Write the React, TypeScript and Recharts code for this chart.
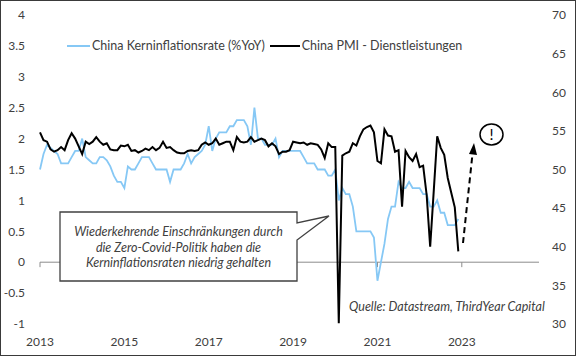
import { ComposedChart, Line, XAxis, YAxis, ReferenceLine } from "recharts";

const startYear = 2013;

// China core CPI, % YoY, monthly from Jan 2013
const coreCpi = [
  1.5, 1.75, 1.9, 1.85, 1.8, 1.75, 1.6, 1.6, 1.6, 1.7, 1.8, 1.8,
  2.0, 1.7, 1.65, 1.6, 1.6, 1.7, 1.7, 1.65, 1.55, 1.4, 1.3, 1.3,
  1.2, 1.55, 1.5, 1.5, 1.6, 1.7, 1.7, 1.7, 1.6, 1.5, 1.5, 1.5,
  1.5, 1.3, 1.5, 1.5, 1.5, 1.6, 1.75, 1.6, 1.7, 1.75, 1.8, 1.9,
  2.2, 1.8, 2.0, 2.1, 2.1, 2.1, 2.2, 2.2, 2.3, 2.3, 2.3, 2.2,
  1.9, 2.5, 2.0, 2.0, 1.9, 1.9, 1.9, 2.0, 1.7, 1.8, 1.8, 1.8,
  1.8, 1.8, 1.8, 1.7, 1.6, 1.6, 1.6, 1.5, 1.5, 1.5, 1.4, 1.4,
  1.5, 1.0, 1.2, 1.1, 1.1, 0.9, 0.5, 0.5, 0.5, 0.5, 0.5, 0.4,
  -0.3, 0.0, 0.3, 0.7, 0.9, 0.9, 1.3, 1.2, 1.2, 1.3, 1.2, 1.2,
  1.2, 1.1, 1.1, 0.9, 0.9, 1.0, 0.8, 0.8, 0.6, 0.6, 0.6, 0.7,
];

// China PMI services, monthly from Jan 2013
const pmiServices = [
  54.8, 53.8, 53.6, 52.6, 52.3, 52.5, 52.9, 52.5, 53.8, 54.7, 54.0, 53.0,
  52.0, 53.6, 53.3, 53.6, 54.2, 53.6, 53.2, 53.4, 52.6, 52.5, 52.5, 53.1,
  53.0, 53.2, 52.4, 52.5, 52.2, 52.4, 52.7, 52.5, 52.9, 52.5, 52.8, 53.6,
  52.8, 52.9, 52.5, 52.2, 52.1, 52.1, 52.4, 52.5, 52.4, 52.5, 53.2, 53.5,
  53.2, 53.4, 54.0, 53.2, 53.4, 53.6, 53.6, 52.5, 54.2, 53.6, 53.5, 53.6,
  54.2, 53.6, 53.8, 54.0, 53.8, 53.0, 53.4, 53.0, 52.0, 52.3, 52.3, 52.5,
  53.6, 53.5, 53.4, 53.5, 53.2, 53.4, 53.3, 53.2, 52.6, 51.5, 53.4, 52.9,
  52.9, 30.1, 51.8, 52.1, 52.3, 53.4, 53.1, 54.3, 55.2, 55.5, 55.7, 54.8,
  51.1, 50.8, 55.2, 54.4, 54.3, 52.3, 52.5, 45.2, 52.4, 51.6, 51.1, 52.0,
  50.3, 50.5, 46.7, 40.0, 47.1, 54.3, 52.8, 51.9, 48.9, 47.0, 45.1, 39.4,
];

const yearTicks = [2013, 2015, 2017, 2019, 2021, 2023];
const leftTicks = [-1, -0.5, 0, 0.5, 1, 1.5, 2, 2.5, 3, 3.5, 4];
const rightTicks = [30, 35, 40, 45, 50, 55, 60, 65, 70];

const coreName = "China Kerninflationsrate (%YoY)";
const pmiName = "China PMI - Dienstleistungen";
const calloutLines = [
  "Wiederkehrende Einschränkungen durch",
  "die Zero-Covid-Politik haben die",
  "Kerninflationsraten niedrig gehalten",
];
const sourceText = "Quelle: Datastream, ThirdYear Capital";

const data = coreCpi.map((v, i) => ({
  t: startYear + i / 12,
  core: v,
  pmi: pmiServices[i],
}));

const BLUE = "#86C8F5";
const TEXT = "#404040";
const FONT = "Lato, 'Open Sans', sans-serif";

const tickStyle = { fontSize: 12, fill: TEXT, fontFamily: FONT };

function ChartLegend() {
  const item = (color: string, label: string, sample: number, mr: number) => (
    <div style={{ display: "flex", alignItems: "center", marginRight: mr }}>
      <div style={{ width: sample, height: 2, background: color, marginRight: 2 }} />
      <span style={{ fontSize: 12.5, color: TEXT, fontFamily: FONT, whiteSpace: "nowrap" }}>{label}</span>
    </div>
  );
  return (
    <div style={{ position: "absolute", left: 66, top: 37, display: "flex", alignItems: "center" }}>
      {item(BLUE, coreName, 23, 5)}
      {item("#000", pmiName, 30, 0)}
    </div>
  );
}

export default function App() {
  return (
    <div
      style={{
        position: "absolute",
        left: 0,
        top: 0,
        width: 576,
        height: 356,
        boxSizing: "border-box",
        border: "1px solid #3a3a3a",
        background: "#fff",
        overflow: "hidden",
      }}
    >
      <div style={{ position: "absolute", left: -1, top: -1 }}>
        <ComposedChart width={576} height={356} data={data} margin={{ top: 15, right: 0, bottom: 0, left: 0 }}>
          <XAxis
            dataKey="t"
            type="number"
            domain={[2013, 2024.83]}
            ticks={yearTicks}
            tickFormatter={(v) => String(Math.round(v))}
            axisLine={false}
            tickLine={false}
            tickSize={0}
            tickMargin={13}
            height={32}
            tick={tickStyle}
            interval={0}
          />
          <YAxis
            yAxisId="left"
            domain={[-1, 4]}
            ticks={leftTicks}
            axisLine={false}
            tickLine={false}
            tickSize={0}
            tickMargin={15}
            width={40}
            tick={tickStyle}
            interval={0}
          />
          <YAxis
            yAxisId="right"
            orientation="right"
            domain={[30, 70]}
            ticks={rightTicks}
            axisLine={false}
            tickLine={false}
            tickSize={0}
            tickMargin={13}
            width={37}
            tick={tickStyle}
            interval={0}
          />
          <ReferenceLine yAxisId="left" y={0} stroke="#8c8c8c" strokeWidth={1} />
          {yearTicks.map((yr) => (
            <ReferenceLine
              key={yr}
              yAxisId="left"
              segment={[
                { x: yr, y: 0 },
                { x: yr, y: -0.08 },
              ]}
              stroke="#8c8c8c"
              strokeWidth={1}
            />
          ))}
          <Line
            yAxisId="left"
            dataKey="core"
            name={coreName}
            type="linear"
            stroke={BLUE}
            strokeWidth={1.8}
            dot={false}
            isAnimationActive={false}
          />
          <Line
            yAxisId="right"
            dataKey="pmi"
            name={pmiName}
            type="linear"
            stroke="#000"
            strokeWidth={2}
            dot={false}
            isAnimationActive={false}
          />
        </ComposedChart>
      </div>
      <ChartLegend />
      <svg
        width={576}
        height={356}
        style={{ position: "absolute", left: -1, top: -1, pointerEvents: "none" }}
      >
        <path
          d="M60,212 H297 V223 L329,216 L297,240 V281 H60 Z"
          fill="#fff"
          stroke="#404040"
          strokeWidth={1.3}
        />
        {calloutLines.map((ln, i) => (
          <text
            key={i}
            x={178.5}
            y={236 + i * 15.5}
            textAnchor="middle"
            fontSize={12.5}
            fontStyle="italic"
            fontFamily={FONT}
            fill={TEXT}
          >
            {ln}
          </text>
        ))}
        <text x={349} y={311} fontSize={12.5} fontStyle="italic" fontFamily={FONT} fill={TEXT}>
          {sourceText}
        </text>
        <line x1={463} y1={243} x2={472.6} y2={153} stroke="#000" strokeWidth={2} strokeDasharray="6 4" />
        <path d="M469,154 L474,143 L477,155 Z" fill="#000" />
        <ellipse cx={491.5} cy={134.5} rx={11.5} ry={10.5} fill="#fff" stroke="#000" strokeWidth={1.5} />
        <text x={491.5} y={140} textAnchor="middle" fontSize={15} fontFamily={FONT} fill="#000">
          !
        </text>
      </svg>
    </div>
  );
}
